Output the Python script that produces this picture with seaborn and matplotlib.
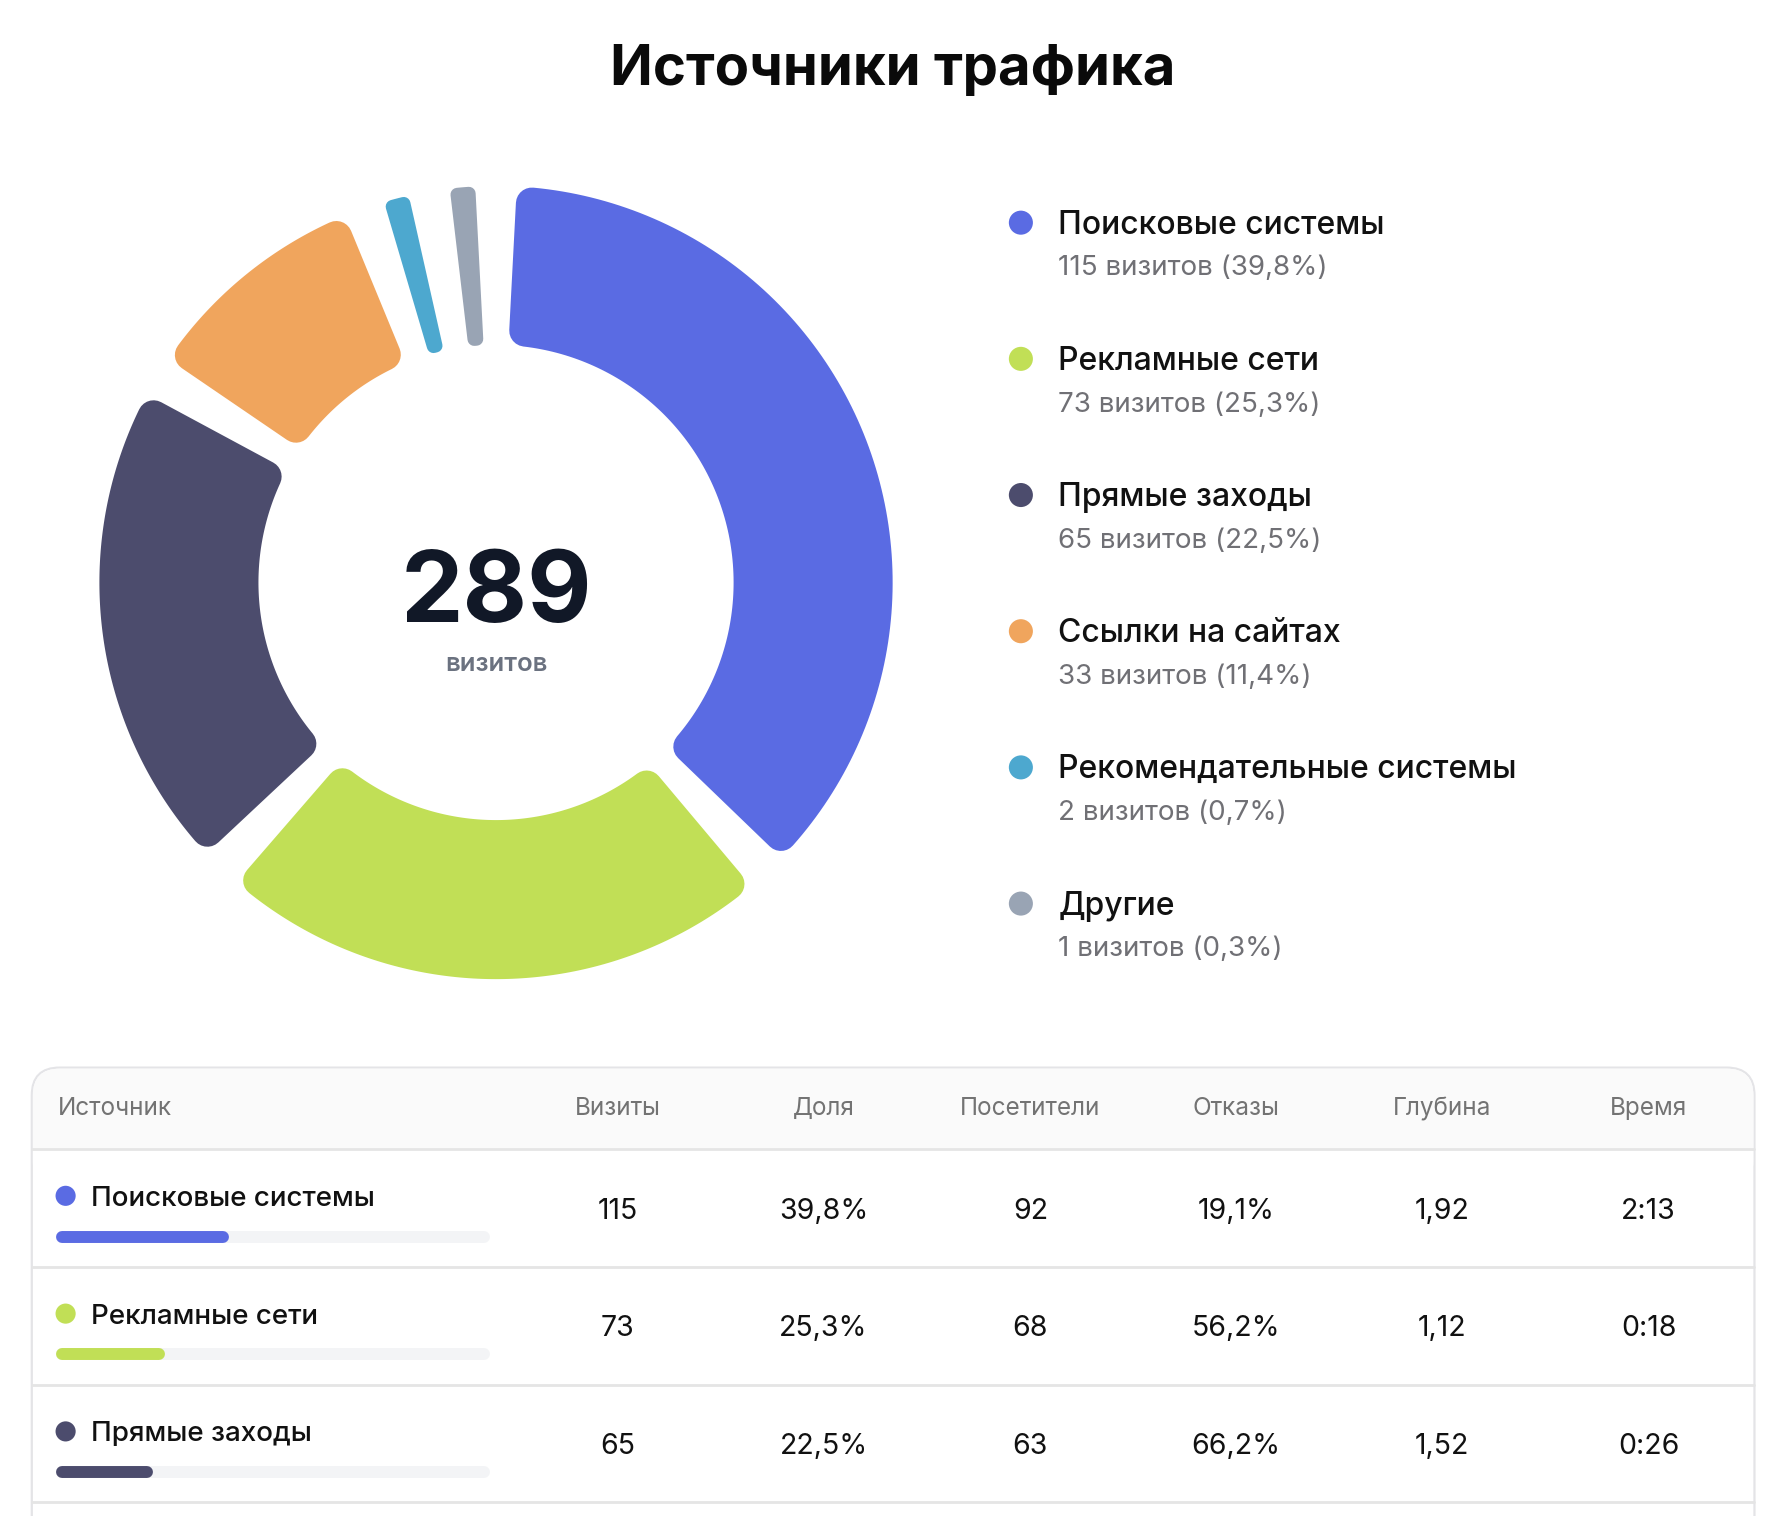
import numpy as np
import matplotlib
matplotlib.use("Agg")
import matplotlib.pyplot as plt
from matplotlib.patches import Polygon, FancyBboxPatch, Rectangle
import seaborn as sns

# Данные
sources = ['Поисковые системы', 'Рекламные сети', 'Прямые заходы',
           'Ссылки на сайтах', 'Рекомендательные системы', 'Другие']
visits = [115, 73, 65, 33, 2, 1]
colors = ['#5A6BE3', '#C1DF56', '#4C4C6D', '#F0A55D', '#4DA8CF', '#99A4B4']

table_cols = ['Источник', 'Визиты', 'Доля', 'Посетители', 'Отказы', 'Глубина', 'Время']
visitors = [92, 68, 63]
bounce = ['19,1%', '56,2%', '66,2%']
depth = ['1,92', '1,12', '1,52']
duration = ['2:13', '0:18', '0:26']

W, H = 1776, 1516
K = 1.006  # подгонка масштаба раскладки
sns.set_theme(style='white')
plt.rcParams['font.family'] = ['Inter', 'DejaVu Sans']

fig = plt.figure(figsize=(W / 100, H / 100), dpi=100)
ax = fig.add_axes([0, 0, 1, 1])
ax.set_xlim(0, W * K)
ax.set_ylim(H * K, 0)
ax.axis('off')

PX = 0.72 / K  # points per data unit
total = sum(visits)
pct = [v / total * 100 for v in visits]
pct_txt = [f'{p:.1f}'.replace('.', ',') + '%' for p in pct]

# Кольцевая диаграмма: минимальный угол для мелких секторов, отступ между секторами
cx, cy = 499, 586
r_out, r_in = 399, 239
pad = 6.0
min_angle = 9.7
raw = np.array(visits) / total * 360
small = raw < min_angle
slots = np.where(small, min_angle, raw)
slots[~small] = raw[~small] / raw[~small].sum() * (360 - min_angle * small.sum())


def pt(theta_deg, r):
    t = np.radians(theta_deg)
    return cx + r * np.sin(t), cy - r * np.cos(t)


start = 0.0
for slot, col in zip(slots, colors):
    t1, t2 = start + pad / 2, start + slot - pad / 2
    span = t2 - t1
    rc = min(16, 0.42 * np.radians(span) * (r_in + 10))
    ro, ri = r_out - rc, r_in + rc
    a_o = np.degrees(np.arcsin(rc / ro))
    a_i = np.degrees(np.arcsin(rc / ri))
    th_o = np.linspace(t1 + a_o, t2 - a_o, 120)
    th_i = np.linspace(t2 - a_i, t1 + a_i, 120)
    pts = [pt(t, ro) for t in th_o] + [pt(t, ri) for t in th_i]
    ax.add_patch(Polygon(pts, closed=True, facecolor=col, edgecolor=col,
                         linewidth=2 * rc * PX, joinstyle='round'))
    start += slot

ax.text(cx, 626, str(total), ha='center', va='baseline', fontsize=71.5,
        fontweight='bold', color='#111827')
ax.text(cx, 675, 'визитов', ha='center', va='baseline', fontsize=18.5,
        fontweight='semibold', color='#6B7280')

# Заголовок
ax.text(898, 86, 'Источники трафика', ha='center', va='baseline',
        fontsize=40.5, fontweight='bold', color='#0A0A0A')

# Легенда
leg_y = np.array([224 + 137 * k for k in range(len(sources))])
sns.scatterplot(x=[1027] * len(sources), y=leg_y, hue=sources, palette=colors,
                s=300, linewidth=0, legend=False, ax=ax)
for k, name in enumerate(sources):
    ax.text(1064.5, leg_y[k] + 11, name, ha='left', va='baseline', fontsize=23,
            fontweight='medium', color='#111111')
    ax.text(1064.5, leg_y[k] + 53, f'{visits[k]} визитов ({pct_txt[k]})',
            ha='left', va='baseline', fontsize=20, color='#707075')

# Таблица
card_l, card_r, card_t = 32, 1765, 1074
head_b = 1156
ax.add_patch(FancyBboxPatch((card_l, card_t), card_r - card_l, 700,
                            boxstyle='round,pad=0,rounding_size=28',
                            facecolor='white', edgecolor='#E4E4E7', linewidth=1.6))
ax.add_patch(FancyBboxPatch((card_l + 1, card_t + 1), card_r - card_l - 2, 120,
                            boxstyle='round,pad=0,rounding_size=27',
                            facecolor='#FAFAFA', edgecolor='none'))
ax.add_patch(Rectangle((card_l + 1, card_t + 60), card_r - card_l - 2, head_b - card_t - 60,
                       facecolor='#FAFAFA', edgecolor='none'))
ax.add_patch(Rectangle((card_l + 1, head_b), card_r - card_l - 2, 400,
                       facecolor='white', edgecolor='none'))

col_x = [58, 621.5, 828.5, 1036.5, 1243.5, 1450.5, 1658.5]
ax.text(col_x[0], 1122, table_cols[0], ha='left', va='baseline', fontsize=17.5, color='#737373')
for x, lab in zip(col_x[1:], table_cols[1:]):
    ax.text(x, 1122, lab, ha='center', va='baseline', fontsize=17.5, color='#737373')

row_h = 118.5
ax.plot([card_l, card_r], [head_b, head_b], color='#E5E5E5', linewidth=2)
rows_n = len(visitors)
for i in range(rows_n):
    top = head_b + i * row_h
    bot = top + row_h
    ax.plot([card_l, card_r], [bot, bot], color='#E5E5E5', linewidth=2)
    ax.text(92, top + 57, sources[i], ha='left', va='baseline', fontsize=20,
            fontweight='medium', color='#111111')
    # полоса доли
    bar_y = top + 88
    x0, x1 = 56, 493
    h = 12
    ax.plot([x0 + h / 2, x1 - h / 2], [bar_y, bar_y], color='#F3F4F6',
            linewidth=h * PX, solid_capstyle='round')
    fill_end = x0 + (x1 - x0) * pct[i] / 100
    ax.plot([x0 + h / 2, fill_end - h / 2], [bar_y, bar_y], color=colors[i],
            linewidth=h * PX, solid_capstyle='round')
    vals = [str(visits[i]), pct_txt[i], str(visitors[i]), bounce[i], depth[i], duration[i]]
    for x, v in zip(col_x[1:], vals):
        ax.text(x, top + 70, v, ha='center', va='baseline', fontsize=20.5, color='#111111')

row_y = [head_b + i * row_h + 47 for i in range(rows_n)]
sns.scatterplot(x=[66] * rows_n, y=row_y, hue=sources[:rows_n], palette=colors[:rows_n],
                s=210, linewidth=0, legend=False, ax=ax)

ax.set_xlim(0, W * K)
ax.set_ylim(H * K, 0)
fig.savefig('out.png', dpi=100, facecolor='white')
